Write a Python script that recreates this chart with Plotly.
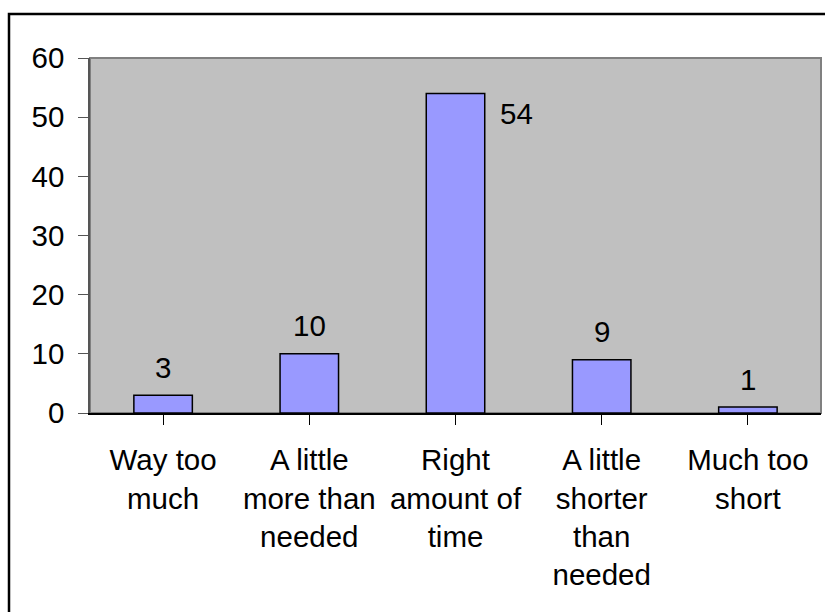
import plotly.graph_objects as go

categories = ["Way too<br>much", "A little<br>more than<br>needed", "Right<br>amount of<br>time",
              "A little<br>shorter<br>than<br>needed", "Much too<br>short"]
values = [3, 10, 54, 9, 1]
y_ticks = [0, 10, 20, 30, 40, 50, 60]
y_max = 60

FONT = "Liberation Sans, Arial, sans-serif"
FS = 29.5
W, H = 825, 612
ML, MR, MT, MB = 90, 4, 58, 199
PW, PH = W - ML - MR, H - MT - MB

fig = go.Figure()
fig.add_trace(go.Bar(
    x=list(range(len(categories))), y=values, width=0.4,
    marker=dict(color="#9999FF", line=dict(color="black", width=1.5)),
    hoverinfo="skip",
))

annotations = []
for i, v in enumerate(values):
    if v + 8 > y_max:
        annotations.append(dict(x=i, y=v, xref="x", yref="y", text=str(v), showarrow=False,
                                xanchor="left", yanchor="middle", xshift=42, yshift=-20,
                                font=dict(family=FONT, size=FS, color="black")))
    else:
        annotations.append(dict(x=i, y=v, xref="x", yref="y", text=str(v), showarrow=False,
                                xanchor="center", yanchor="middle", yshift=28,
                                font=dict(family=FONT, size=FS, color="black")))

shapes = [
    # plot area border
    dict(type="rect", xref="paper", yref="paper", x0=0, x1=1, y0=0, y1=1,
         line=dict(color="#808080", width=2), layer="below"),
    # outer chart border (top and left visible)
    dict(type="rect", xref="paper", yref="paper",
         x0=(9 - ML) / PW, x1=(W + 20 - ML) / PW,
         y0=-(MB + 20) / PH, y1=1 + (MT - 14) / PH,
         line=dict(color="black", width=2.5), layer="above"),
]

fig.update_layout(
    width=W, height=H,
    margin=dict(l=ML, r=MR, t=MT, b=MB, pad=0),
    paper_bgcolor="white", plot_bgcolor="#C0C0C0",
    showlegend=False, bargap=0.6,
    font=dict(family=FONT, size=FS, color="black"),
    annotations=annotations, shapes=shapes,
    xaxis=dict(
        tickmode="array", tickvals=list(range(len(categories))), ticktext=categories,
        tickson="boundaries", ticks="outside", ticklen=10, tickcolor="black", tickwidth=1,
        showline=True, linecolor="black", linewidth=1.5, showgrid=False, zeroline=False,
        range=[-0.5, len(categories) - 0.5], tickangle=0,
        tickfont=dict(family=FONT, size=FS, color="black"), ticklabelstandoff=10,
    ),
    yaxis=dict(
        range=[0, y_max], tickmode="array", tickvals=y_ticks,
        ticks="outside", ticklen=10, tickcolor="#555555", tickwidth=1,
        showline=True, linecolor="#555555", linewidth=1.5, showgrid=False, zeroline=False,
        tickfont=dict(family=FONT, size=FS, color="black"), ticklabelstandoff=8,
    ),
)

fig.write_html("out.html")
